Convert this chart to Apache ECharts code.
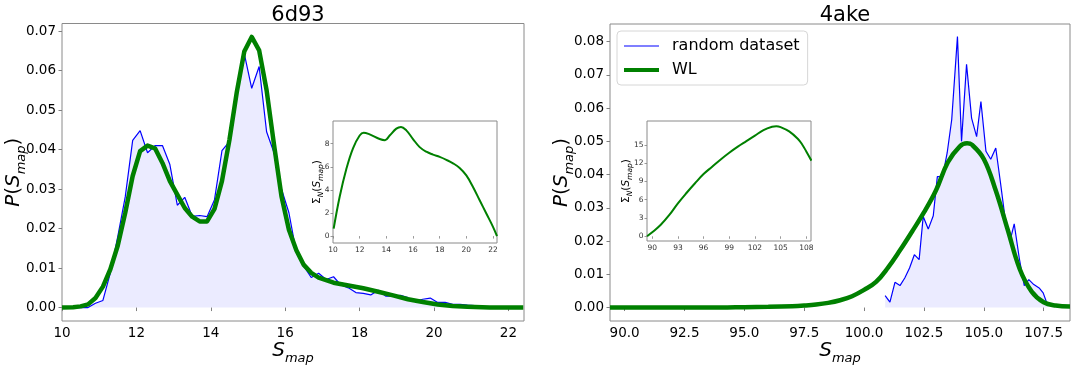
<!DOCTYPE html>
<html>
<head>
<meta charset="utf-8">
<script src="https://cdn.jsdelivr.net/npm/echarts@6/dist/echarts.min.js"></script>
<style>
  html, body { margin: 0; padding: 0; background: #fff; }
  #chart { width: 1072px; height: 365px; }
</style>
</head>
<body>
<div id="chart"></div>
<script>
// 6d93: random dataset histogram
var lbX = [10.1, 10.3, 10.5, 10.7, 10.9, 11.1, 11.3, 11.5, 11.7, 11.9, 12.1, 12.3, 12.5, 12.7, 12.9,
  13.1, 13.3, 13.5, 13.7, 13.9, 14.1, 14.3, 14.5, 14.7, 14.9, 15.1, 15.3, 15.5, 15.7, 15.9,
  16.1, 16.3, 16.5, 16.7, 16.9, 17.1, 17.3, 17.5, 17.7, 17.9, 18.1, 18.3, 18.5, 18.7, 18.9,
  19.1, 19.3, 19.5, 19.7, 19.9, 20.1, 20.3, 20.5, 20.7, 20.9, 21.1, 21.3];
var lbY = [0, 0, 0, 0, 0.0011, 0.0018, 0.0088, 0.018, 0.028, 0.0423, 0.0448, 0.0392, 0.041, 0.041, 0.0362,
  0.0259, 0.0279, 0.0231, 0.0233, 0.023, 0.0273, 0.0397, 0.042, 0.054, 0.0643, 0.0555, 0.061, 0.0445, 0.0392, 0.030,
  0.024, 0.0139, 0.0105, 0.0076, 0.0087, 0.0071, 0.0078, 0.0057, 0.005, 0.0038, 0.0036, 0.0032, 0.0044, 0.0029, 0.0029,
  0.0031, 0.0025, 0.0017, 0.0021, 0.0024, 0.0013, 0.0013, 0.0008, 0.0008, 0.0006, 0.0005, 0.0004];
// 6d93: WL
var lgX = [10.0, 10.3, 10.5, 10.7, 10.9, 11.1, 11.3, 11.5, 11.7, 11.9, 12.1, 12.3, 12.5, 12.7, 12.9,
  13.1, 13.3, 13.5, 13.7, 13.9, 14.1, 14.3, 14.5, 14.7, 14.9, 15.1, 15.3, 15.5, 15.7, 15.9,
  16.1, 16.3, 16.5, 16.7, 16.9, 17.3, 17.7, 18.1, 18.5, 18.9, 19.3, 19.7, 20.1, 20.5, 20.9, 21.5, 22.4];
var lgY = [0, 0.0001, 0.0003, 0.0008, 0.0024, 0.0053, 0.0097, 0.0157, 0.024, 0.0333, 0.0396, 0.041, 0.0403, 0.0366, 0.032,
  0.0286, 0.0252, 0.023, 0.0218, 0.0218, 0.025, 0.032, 0.0424, 0.0546, 0.0648, 0.0685, 0.0651, 0.055, 0.0412, 0.0282,
  0.0197, 0.0145, 0.0108, 0.0088, 0.0076, 0.0063, 0.0056, 0.0049, 0.004, 0.0031, 0.0021, 0.0014, 0.0008, 0.0004, 0.0002, 0, 0];
// 6d93 inset: Sigma_N
var liX = [10.05, 10.5, 11, 11.5, 12, 12.3, 12.75, 13.5, 13.9, 14.25, 14.75, 15.1, 15.5, 16, 16.5,
  17, 17.5, 18, 18.5, 19, 19.5, 20, 20.5, 21, 21.5, 22, 22.3];
var liY = [0.64, 3.4, 5.8, 7.6, 8.7, 8.95, 8.8, 8.4, 8.3, 8.7, 9.3, 9.45, 9.15, 8.4, 7.7,
  7.3, 7.05, 6.85, 6.6, 6.3, 5.9, 5.25, 4.25, 3.1, 1.95, 0.8, 0.0];

// 4ake: random dataset histogram
var rbX = [100.88, 101.08, 101.29, 101.5, 101.7, 101.9, 102.1, 102.3, 102.47, 102.68, 102.89, 103.06,
  103.28, 103.47, 103.66, 103.9, 104.07, 104.28, 104.49, 104.7, 104.88, 105.09, 105.29, 105.5,
  105.7, 105.88, 106.09, 106.27, 106.48, 106.69, 106.88, 107.09, 107.31, 107.48, 107.62, 107.75];
var rbY = [0.0036, 0.0016, 0.0076, 0.0066, 0.0089, 0.0119, 0.0159, 0.0144, 0.0274, 0.0236, 0.0276, 0.0394,
  0.0394, 0.0465, 0.0565, 0.0815, 0.050, 0.0732, 0.057, 0.0514, 0.062, 0.047, 0.0446, 0.048,
  0.0374, 0.0274, 0.0199, 0.0252, 0.0149, 0.0066, 0.0084, 0.0069, 0.0059, 0.0044, 0.0016, 0.0005];
// 4ake: WL
var rgX = [89.39, 92, 94, 95, 96, 97, 97.5, 98, 98.5, 99, 99.5, 100, 100.5, 101, 101.5, 102, 102.5, 103,
  103.5, 104, 104.3, 104.5, 105, 105.5, 106, 106.5, 107, 107.5, 108, 108.6];
var rgY = [0, 0, 0, 0.0001, 0.0002, 0.0004, 0.0006, 0.0009, 0.0014, 0.0022, 0.0034, 0.0053, 0.0077, 0.012, 0.0172, 0.0228, 0.0286, 0.0352,
  0.0437, 0.0485, 0.0494, 0.049, 0.0447, 0.0352, 0.0234, 0.0116, 0.0048, 0.0016, 0.0006, 0.0003];
// 4ake inset: Sigma_N
var riX = [89.4, 90, 91, 92, 93, 94, 95, 96, 97, 98, 99, 100, 101, 102, 103, 104, 104.5, 105, 106, 107, 107.5, 108, 108.6];
var riY = [0, 0.66, 1.9, 3.5, 5.4, 7.1, 8.7, 10.2, 11.4, 12.6, 13.7, 14.7, 15.6, 16.5, 17.4, 17.95, 18.05, 17.9, 17.2, 16.0, 15.1, 13.9, 12.4];

// tick labels
var lxTicks = [10, 12, 14, 16, 18, 20, 22];
var lyTicks = [0, 0.01, 0.02, 0.03, 0.04, 0.05, 0.06, 0.07];
var rxTicks = [90, 92.5, 95, 97.5, 100, 102.5, 105, 107.5];
var ryTicks = [0, 0.01, 0.02, 0.03, 0.04, 0.05, 0.06, 0.07, 0.08];
var lixTicks = [10, 12, 14, 16, 18, 20, 22];
var liyTicks = [0, 2, 4, 6, 8];
var rixTicks = [90, 93, 96, 99, 102, 105, 108];
var riyTicks = [0, 3, 6, 9, 12, 15];

var FONT = 'DejaVu Sans';

function zip(xs, ys) {
  return xs.map(function (x, i) { return [x, ys[i]]; });
}

// mathtext-like label: italic letters, upright symbols, lowered subscripts
function mathRich(big, small, drop) {
  return {
    i: { fontFamily: FONT, fontStyle: 'italic', fontSize: big, color: '#000', verticalAlign: 'top', padding: [0, 0, drop, 0] },
    n: { fontFamily: FONT, fontSize: big, color: '#000', verticalAlign: 'top', padding: [0, 0, drop, 0] },
    s: { fontFamily: FONT, fontStyle: 'italic', fontSize: small, color: '#000', verticalAlign: 'bottom' }
  };
}

function mainAxis(idx, min, max, ticks, digits, name, nameGap, isY) {
  var ax = {
    type: 'value',
    gridIndex: idx,
    min: min,
    max: max,
    name: name,
    nameLocation: 'middle',
    nameGap: nameGap,
    nameMoveOverlap: false,
    nameTextStyle: { rich: mathRich(20, 13, 4) },
    axisLine: { show: false },
    axisTick: { show: true, length: 3.5, lineStyle: { color: '#808080', width: 1 }, customValues: ticks },
    axisLabel: {
      fontFamily: FONT, fontSize: 13.5, color: '#000', margin: isY ? 6 : 5,
      customValues: ticks,
      formatter: function (v) { return v.toFixed(digits); }
    },
    splitLine: { show: false }
  };
  if (isY) ax.nameRotate = 90;
  return ax;
}

function insetAxis(idx, min, max, ticks, name, nameGap) {
  var ax = {
    type: 'value',
    gridIndex: idx,
    min: min,
    max: max,
    axisLine: { show: false },
    axisTick: { show: true, length: 2.5, lineStyle: { color: '#808080', width: 0.8 }, customValues: ticks },
    axisLabel: {
      fontFamily: FONT, fontSize: 7.5, color: '#333', margin: 3.5,
      customValues: ticks,
      formatter: function (v) { return String(v); }
    },
    splitLine: { show: false }
  };
  if (name) {
    ax.name = name;
    ax.nameLocation = 'middle';
    ax.nameGap = nameGap;
    ax.nameMoveOverlap = false;
    ax.nameRotate = 90;
    ax.nameTextStyle = { rich: mathRich(10.5, 7.5, 2.5) };
  }
  return ax;
}

var chart = echarts.init(document.getElementById('chart'), null, { renderer: 'canvas' });

var gridBase = { show: true, borderColor: '#8a8a8a', borderWidth: 1, containLabel: false, outerBoundsMode: 'none' };

var option = {
  animation: false,
  backgroundColor: '#fff',
  title: [
    { text: '6d93', left: 293, top: 0, textAlign: 'center',
      textStyle: { fontFamily: FONT, fontSize: 21, fontWeight: 'normal', color: '#000' } },
    { text: '4ake', left: 840, top: 0, textAlign: 'center',
      textStyle: { fontFamily: FONT, fontSize: 21, fontWeight: 'normal', color: '#000' } }
  ],
  legend: {
    data: [
      { name: 'random dataset', icon: 'path://M0,0 M35,14 M0,6.4 L35,6.4 L35,7.6 L0,7.6 Z',
        itemStyle: { color: '#0000ff', borderWidth: 0 } },
      { name: 'WL', icon: 'path://M0,0 M35,14 M0,5 L35,5 L35,9 L0,9 Z',
        itemStyle: { color: '#008000', borderWidth: 0 } }
    ],
    orient: 'vertical',
    left: 617,
    top: 31,
    padding: [7, 8, 7, 7],
    itemGap: 8,
    itemWidth: 35,
    itemHeight: 14,
    backgroundColor: 'rgba(255,255,255,0.8)',
    borderColor: '#d6d6d6',
    borderWidth: 1,
    borderRadius: 4,
    textStyle: { fontFamily: FONT, fontSize: 16, color: '#000', padding: [0, 0, 0, 8] }
  },
  grid: [
    Object.assign({ left: 62, top: 23.5, width: 462, height: 297.5 }, gridBase),
    Object.assign({ left: 610, top: 24, width: 460, height: 297 }, gridBase),
    Object.assign({ left: 333, top: 121, width: 164, height: 122, backgroundColor: '#fff' }, gridBase),
    Object.assign({ left: 647, top: 121, width: 164, height: 120, backgroundColor: '#fff' }, gridBase)
  ],
  xAxis: [
    mainAxis(0, 10, 22.42, lxTicks, 0, '{i|S}{s|map}', 20, false),
    mainAxis(1, 89.39, 108.6, rxTicks, 1, '{i|S}{s|map}', 20, false),
    insetAxis(2, 10, 22.3, lixTicks, null, 0),
    insetAxis(3, 89.39, 108.55, rixTicks, null, 0)
  ],
  yAxis: [
    mainAxis(0, -0.0034, 0.0719, lyTicks, 2, '{i|P}{n|(}{i|S}{s|map}{n|)}', 34, true),
    mainAxis(1, -0.00405, 0.0853, ryTicks, 2, '{i|P}{n|(}{i|S}{s|map}{n|)}', 34, true),
    insetAxis(2, -0.6, 9.96, liyTicks, '{n|Σ}{s|N}{n|(}{i|S}{s|map}{n|)}', 8),
    insetAxis(3, -0.77, 18.9, riyTicks, '{n|Σ}{s|N}{n|(}{i|S}{s|map}{n|)}', 13)
  ],
  series: [
    {
      name: 'random dataset', type: 'line', xAxisIndex: 0, yAxisIndex: 0,
      data: zip(lbX, lbY), symbol: 'none', smooth: false,
      lineStyle: { color: '#0000ff', width: 1.2 },
      itemStyle: { color: '#0000ff' },
      areaStyle: { color: 'rgba(0,0,255,0.11)', origin: 0 }
    },
    {
      name: 'WL', type: 'line', xAxisIndex: 0, yAxisIndex: 0,
      data: zip(lgX, lgY), symbol: 'none', smooth: false,
      lineStyle: { color: '#008000', width: 4.5, join: 'round' },
      itemStyle: { color: '#008000' }
    },
    {
      name: 'random dataset', type: 'line', xAxisIndex: 1, yAxisIndex: 1,
      data: zip(rbX, rbY), symbol: 'none', smooth: false,
      lineStyle: { color: '#0000ff', width: 1.2 },
      itemStyle: { color: '#0000ff' },
      areaStyle: { color: 'rgba(0,0,255,0.11)', origin: 0 }
    },
    {
      name: 'WL', type: 'line', xAxisIndex: 1, yAxisIndex: 1,
      data: zip(rgX, rgY), symbol: 'none', smooth: 0.4,
      lineStyle: { color: '#008000', width: 4.5 },
      itemStyle: { color: '#008000' }
    },
    {
      name: 'sigma 6d93', type: 'line', xAxisIndex: 2, yAxisIndex: 2,
      data: zip(liX, liY), symbol: 'none', smooth: 0.4,
      lineStyle: { color: '#008000', width: 2 }
    },
    {
      name: 'sigma 4ake', type: 'line', xAxisIndex: 3, yAxisIndex: 3,
      data: zip(riX, riY), symbol: 'none', smooth: 0.4,
      lineStyle: { color: '#008000', width: 2 }
    }
  ]
};

chart.setOption(option);
</script>
</body>
</html>
